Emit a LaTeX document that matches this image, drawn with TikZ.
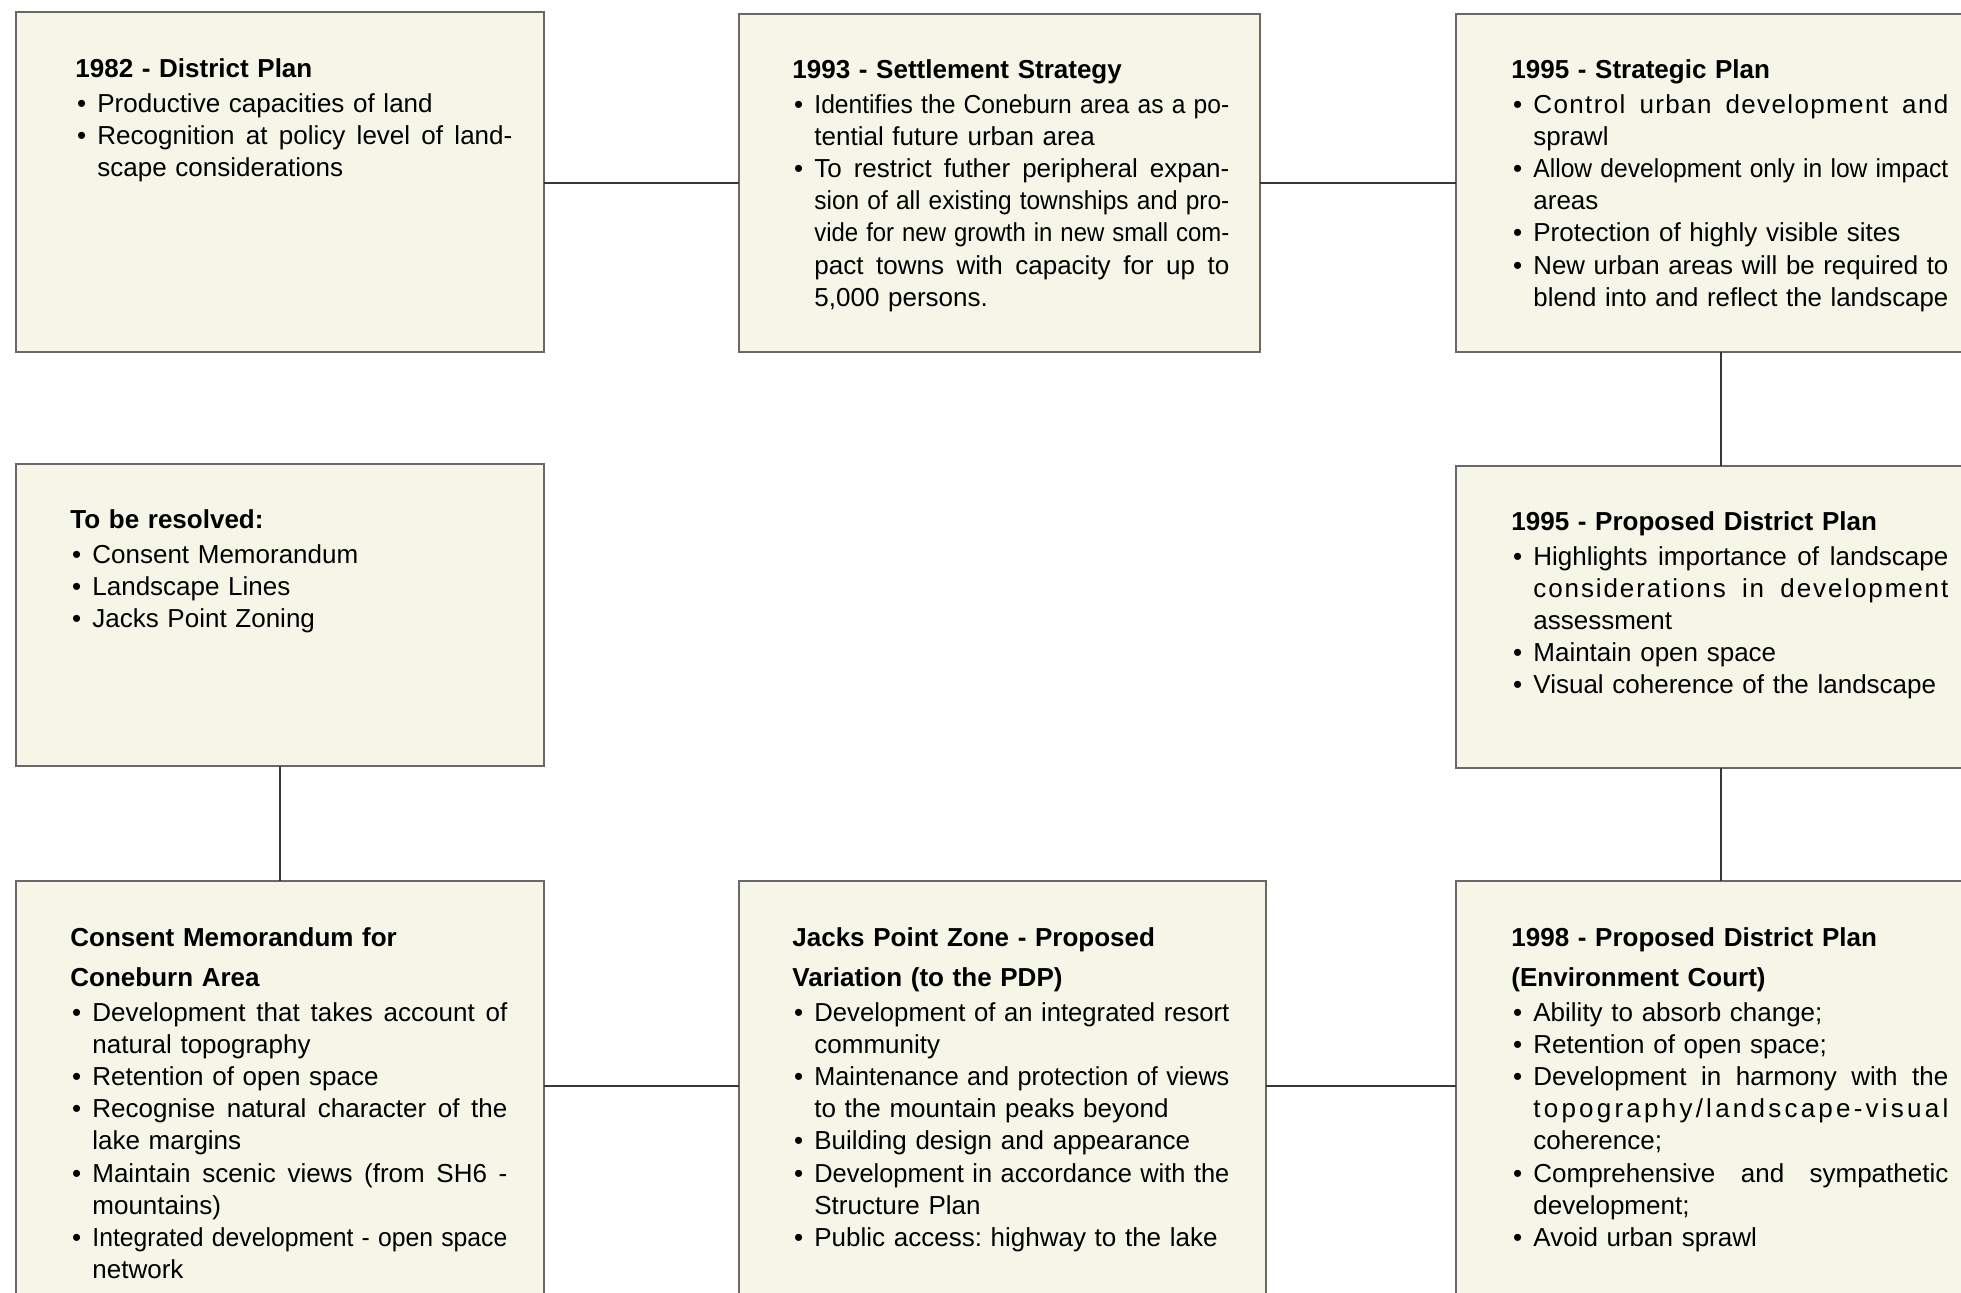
\documentclass[tikz,border=0pt]{standalone}
\usepackage{fontspec}
\setmainfont{Liberation Sans}
\usepackage{graphicx}
\frenchspacing
\definecolor{boxfill}{RGB}{245,246,232}
\definecolor{boxline}{RGB}{105,105,105}
\definecolor{conline}{RGB}{55,55,55}
\newlength\bw \setlength\bw{207.5pt}
\newlength\tmpw
\newcommand\jl[1]{\settowidth\tmpw{#1}\ifdim\tmpw>\bw\relax\pgfmathsetmacro\sfac{\bw/\tmpw}\scalebox{\sfac}[1]{#1}\else\makebox[\bw][s]{\spaceskip=\fontdimen2\font plus 1fil\relax #1}\fi}
\newcommand\nl[1]{\settowidth\tmpw{#1}\ifdim\tmpw>\bw\relax\pgfmathsetmacro\sfac{\bw/\tmpw}\scalebox{\sfac}[1]{#1}\else#1\fi}
\newcommand\bu{\makebox[11pt][l]{\hspace{0.8pt}\textbullet}}
\newcommand\ind{\hspace*{11pt}}
\newcommand\hd[1]{\rule{0pt}{10pt}\textbf{#1}}
\makeatletter
\newcommand\spreadit[1]{\def\sp@first{1}\@tfor\sp@c:=#1\do{\ifnum\sp@first=1 \def\sp@first{0}\else\hfil\fi\sp@c}}
\makeatother
\newcommand\ws{\hfil\hfil\ }
\newcommand\spl[1]{\makebox[\bw][s]{\spreadit{#1}}}
\tikzset{
  box/.style={draw=boxline, line width=1pt, fill=boxfill, anchor=north west, inner sep=0pt, outer sep=0pt},
  txt/.style={anchor=north west, inner sep=0pt, text width=218.5pt, align=left, font=\fontsize{13}{16.1}\selectfont},
  con/.style={draw=conline, line width=0.7pt}
}
\begin{document}
\begin{tikzpicture}[x=0.5pt,y=-0.5pt]
\useasboundingbox (0,0) rectangle (1961,1292);
\fill[white] (0,0) rectangle (1961,1292);
% boxes
\node[box, minimum width=264pt, minimum height=170pt] (b1) at (16,12) {};
\node[box, minimum width=260.5pt, minimum height=169pt] (b2) at (739,14) {};
\node[box, minimum width=265pt, minimum height=169pt] (b3) at (1456,14) {};
\node[box, minimum width=264pt, minimum height=151pt] (b4) at (16,464) {};
\node[box, minimum width=265pt, minimum height=151pt] (b5) at (1456,466) {};
\node[box, minimum width=264pt, minimum height=209.5pt] (b6) at (16,881) {};
\node[box, minimum width=263.5pt, minimum height=209.5pt] (b7) at (739,881) {};
\node[box, minimum width=265pt, minimum height=209.5pt] (b8) at (1456,881) {};
% connectors
\coordinate (rowa) at (0,183);
\coordinate (rowc) at (0,1086);
\draw[con] (b1.east |- rowa) -- (b2.west |- rowa);
\draw[con] (b2.east |- rowa) -- (b3.west |- rowa);
\draw[con] (b3) -- (b5);
\draw[con] (b5) -- (b8);
\draw[con] (b4) -- (b6);
\draw[con] (b6.east |- rowc) -- (b7.west |- rowc);
\draw[con] (b7.east |- rowc) -- (b8.west |- rowc);
% texts
\node[txt] (t1) at (75,57) {\hd{1982 - District Plan}\\[1.2pt]
\bu\nl{Productive capacities of land}\\
\bu\jl{Recognition at policy level of land-}\\
\ind\nl{scape considerations}};
\node[txt] (t2) at (792,58) {\hd{1993 - Settlement Strategy}\\[1.2pt]
\bu\jl{Identifies the Coneburn area as a po-}\\
\ind\nl{tential future urban area}\\
\bu\jl{To restrict futher peripheral expan-}\\
\ind\jl{sion of all existing townships and pro-}\\
\ind\jl{vide for new growth in new small com-}\\
\ind\jl{pact towns with capacity for up to}\\
\ind\nl{5,000 persons.}};
\node[txt] (t3) at (1511,58) {\hd{1995 - Strategic Plan}\\[1.2pt]
\bu\spl{Control\ws urban\ws development\ws and}\\
\ind\nl{sprawl}\\
\bu\jl{Allow development only in low impact}\\
\ind\nl{areas}\\
\bu\nl{Protection of highly visible sites}\\
\bu\jl{New urban areas will be required to}\\
\ind\nl{blend into and reflect the landscape}};
\node[txt] (t4) at (70,508) {\hd{To be resolved:}\\[1.2pt]
\bu\nl{Consent Memorandum}\\
\bu\nl{Landscape Lines}\\
\bu\nl{Jacks Point Zoning}};
\node[txt] (t5) at (1511,510) {\hd{1995 - Proposed District Plan}\\[1.2pt]
\bu\jl{Highlights importance of landscape}\\
\ind\spl{considerations\ws in\ws development}\\
\ind\nl{assessment}\\
\bu\nl{Maintain open space}\\
\bu\nl{Visual coherence of the landscape}};
\node[txt] (t6) at (70,926) {\hd{Consent Memorandum for}\\[3.9pt]
\textbf{Coneburn Area}\\[1.2pt]
\bu\jl{Development that takes account of}\\
\ind\nl{natural topography}\\
\bu\nl{Retention of open space}\\
\bu\jl{Recognise natural character of the}\\
\ind\nl{lake margins}\\
\bu\jl{Maintain scenic views (from SH6 -}\\
\ind\nl{mountains)}\\
\bu\jl{Integrated development - open space}\\
\ind\nl{network}};
\node[txt] (t7) at (792,926) {\hd{Jacks Point Zone - Proposed}\\[3.9pt]
\textbf{Variation (to the PDP)}\\[1.2pt]
\bu\jl{Development of an integrated resort}\\
\ind\nl{community}\\
\bu\jl{Maintenance and protection of views}\\
\ind\nl{to the mountain peaks beyond}\\
\bu\nl{Building design and appearance}\\
\bu\jl{Development in accordance with the}\\
\ind\nl{Structure Plan}\\
\bu\nl{Public access: highway to the lake}};
\node[txt] (t8) at (1511,926) {\hd{1998 - Proposed District Plan}\\[3.9pt]
\textbf{(Environment Court)}\\[1.2pt]
\bu\nl{Ability to absorb change;}\\
\bu\nl{Retention of open space;}\\
\bu\jl{Development in harmony with the}\\
\ind\spl{topography/landscape-visual}\\
\ind\nl{coherence;}\\
\bu\jl{Comprehensive and sympathetic}\\
\ind\nl{development;}\\
\bu\nl{Avoid urban sprawl}};
\end{tikzpicture}
\end{document}
